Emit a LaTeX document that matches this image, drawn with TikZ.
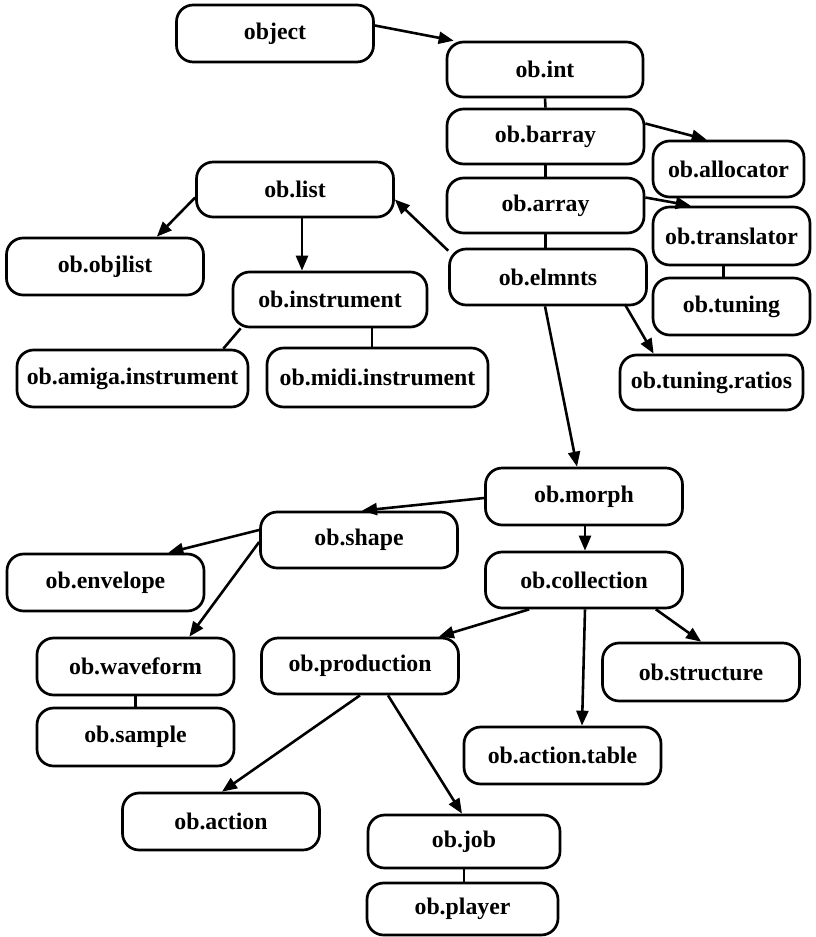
\documentclass[tikz,border=0pt]{standalone}
\usepackage{fontspec}
\setmainfont{Liberation Serif}
\usetikzlibrary{arrows.meta,calc}
\begin{document}
\begin{tikzpicture}[x=0.03cm,y=-0.03cm,
  box/.style={draw,line width=2.3pt,rounded corners=0.5cm,inner sep=0pt,
    minimum width=197*0.03cm,minimum height=56*0.03cm,
    font=\fontsize{20.3}{24}\selectfont\bfseries},
  conn/.style={line width=2.2pt},
  arr/.style={line width=2.2pt,-{Triangle[length=0.45cm,width=0.36cm]}}]
\useasboundingbox (0,0) rectangle (815,937);
% nodes
\node[box,minimum height=57*0.03cm] (object) at (275,33.5) {object};
\node[box,minimum width=196*0.03cm,minimum height=55*0.03cm] (int) at (545,69.5) {ob.int};
\node[box,minimum height=55*0.03cm] (barray) at (545.5,136.5) {ob.barray};
\node[box,minimum height=55*0.03cm] (array) at (545.5,205.5) {ob.array};
\node[box] (elmnts) at (548,277) {ob.elmnts};
\node[box,minimum width=151*0.03cm] (allocator) at (728.5,169) {ob.allocator};
\node[box,minimum width=157*0.03cm,minimum height=58*0.03cm] (translator) at (731.5,236) {ob.translator};
\node[box,minimum width=157*0.03cm,minimum height=57*0.03cm] (tuning) at (731.5,306.5) {ob.tuning};
\node[box,minimum width=183*0.03cm,minimum height=55*0.03cm] (ratios) at (711.5,382.5) {ob.tuning.ratios};
\node[box,minimum height=55*0.03cm] (list) at (295,189.5) {ob.list};
\node[box,minimum height=57*0.03cm] (objlist) at (105,266.5) {ob.objlist};
\node[box,minimum width=194*0.03cm,minimum height=55*0.03cm] (instrument) at (330,299.5) {ob.instrument};
\node[box,minimum width=231*0.03cm,minimum height=57*0.03cm] (amiga) at (132.5,378.5) {ob.amiga.instrument};
\node[box,minimum width=221*0.03cm,minimum height=59*0.03cm] (midi) at (377.5,377.5) {ob.midi.instrument};
\node[box,minimum height=57*0.03cm] (morph) at (584,496.5) {ob.morph};
\node[box] (collection) at (584,580) {ob.collection};
\node[box] (shape) at (359,540) {ob.shape};
\node[box,minimum height=57*0.03cm] (envelope) at (105.5,582.5) {ob.envelope};
\node[box,minimum height=57*0.03cm] (waveform) at (135.5,666.5) {ob.waveform};
\node[box,minimum height=58*0.03cm] (sample) at (135.5,737) {ob.sample};
\node[box] (production) at (360,666) {ob.production};
\node[box,minimum height=58*0.03cm] (structure) at (701,672) {ob.structure};
\node[box,minimum height=57*0.03cm] (atable) at (562.5,755.5) {ob.action.table};
\node[box,minimum height=57*0.03cm] (action) at (221,821.5) {ob.action};
\node[box,minimum width=192*0.03cm,minimum height=53*0.03cm] (job) at (464,841.5) {ob.job};
\node[box,minimum width=191*0.03cm,minimum height=52*0.03cm] (player) at (462.5,909) {ob.player};
% connectors
\draw[arr] ($(object.east)+(0,-8)$) -- ($(int.north west)+(8,0)$);
\draw[conn] (int.south) -- (barray.north);
\draw[arr] ($(barray.east)+(0,-13)$) -- ($(allocator.north west)+(55,0)$);
\draw[conn] (barray.south) -- (array.north);
\draw[arr] ($(array.east)+(0,-8)$) -- ($(translator.north west)+(39,0)$);
\draw[conn] (array.south) -- (array.south |- elmnts.north);
\draw[conn] ($(translator.south)+(-8,0)$) -- ($(tuning.north)+(-8,0)$);
\draw[arr] ($(elmnts.south east)+(-23,-2)$) -- ($(ratios.north west)+(35,0)$);
\draw[arr] ($(elmnts.north west)+(0,3)$) -- ($(list.east)+(0,10)$);
\draw[arr] ($(elmnts.south)+(-3,0)$) -- ($(morph.north)+(-7,0)$);
\draw[arr] ($(list.west)+(0,8)$) -- ($(objlist.north east)+(-48,0)$);
\draw[arr] ($(list.south)+(7,0)$) -- ($(instrument.north)+(-28,0)$);
\draw[conn] ($(instrument.south west)+(9,0)$) -- ($(amiga.north east)+(-26,0)$);
\draw[conn] ($(instrument.south)+(42,0)$) -- ($(midi.north)+(-5.5,0)$);
\draw[arr] ($(morph.west)+(0,1.5)$) -- ($(shape.north)+(3,0)$);
\draw[arr] ($(morph.south)+(1,0)$) -- ($(collection.north)+(1,0)$);
\draw[arr] ($(shape.west)+(0,-10)$) -- ($(envelope.north east)+(-37,0)$);
\draw[arr] ($(shape.west)+(0,2)$) -- ($(waveform.north east)+(-46,0)$);
\draw[conn] (waveform.south) -- (sample.north);
\draw[arr] ($(collection.south west)+(45,0)$) -- ($(production.north east)+(-21,0)$);
\draw[arr] ($(collection.south)+(1,0)$) -- ($(atable.north)+(19.5,0)$);
\draw[arr] ($(collection.south east)+(-28,0)$) -- ($(structure.north west)+(100,0)$);
\draw[arr] (production.south) -- ($(action.north)+(1,0)$);
\draw[arr] ($(production.south)+(28,0)$) -- ($(job.north)+(-2,0)$);
\draw[conn] (job.south) -- (job.south |- player.north);
\end{tikzpicture}
\end{document}
